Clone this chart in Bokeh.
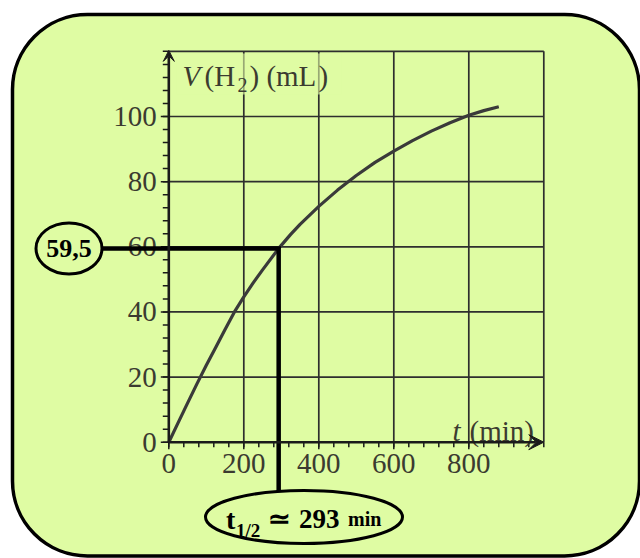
import numpy as np
from bokeh.plotting import figure
from bokeh.models import Range1d, BoxAnnotation, Arrow, VeeHead
from bokeh.core.properties import value
from bokeh.embed import file_html
from bokeh.resources import INLINE

# ---------------- data ----------------
t_min = [0, 25, 50, 75, 100, 125, 150, 175, 200, 225, 250, 293, 325, 350, 400,
         450, 500, 550, 600, 650, 700, 750, 800, 840, 880]
V_mL = [0, 6.0, 12.0, 17.9, 23.6, 29.1, 34.6, 40.0, 44.6, 48.9, 52.9, 59.5, 63.8,
        66.9, 72.4, 77.4, 81.9, 85.9, 89.4, 92.6, 95.5, 98.1, 100.4, 101.8, 103.0]

x_major = [0, 200, 400, 600, 800]
x_labels = ["0", "200", "400", "600", "800"]
y_major = [0, 20, 40, 60, 80, 100]
y_labels = ["0", "20", "40", "60", "80", "100"]
x_grid = [200, 400, 600, 800, 1000]
y_grid = [20, 40, 60, 80, 100, 120]
x_minor = list(range(0, 1001, 40))
y_minor = list(range(0, 121, 4))
x_max, y_max = 1000, 120

t_half = 293
V_half = 59.5
V_half_text = "59,5"

# ---------------- geometry (page pixels) ----------------
W, H = 640, 558
OX, OY = 168.3, 441.7      # data origin in px
SX, SY = 0.375, 3.257      # px per data unit
x0 = -OX / SX
x1 = x0 + W / SX
y1 = OY / SY
y0 = y1 - H / SY


def X(px):  # page px -> data x
    return x0 + px / SX


def Y(py):  # page px -> data y
    return y1 - py / SY


BG = "#dffca3"
GRID = "#2e2e2e"
AX = "#1a1a1a"
TXT = "#3b3b30"
SERIF = value("Liberation Serif")

p = figure(width=W, height=H, x_range=Range1d(x0, x1), y_range=Range1d(y0, y1),
           output_backend="svg", toolbar_location=None, min_border=0,
           x_axis_location=None, y_axis_location=None, outline_line_color=None,
           background_fill_color="white", border_fill_color="white")
p.grid.visible = False

# rounded green box
p.add_layout(BoxAnnotation(left=X(12), right=X(639), top=Y(14), bottom=Y(555.5),
                           border_radius=75, fill_color=BG, fill_alpha=1.0,
                           line_color="black", line_alpha=1.0, line_width=3.5,
                           level="underlay"))

# grid
p.segment(x0=x_grid, y0=[0] * len(x_grid), x1=x_grid, y1=[y_max] * len(x_grid),
          line_color=GRID, line_width=1.7)
p.segment(x0=[0] * len(y_grid), y0=y_grid, x1=[x_max] * len(y_grid), y1=y_grid,
          line_color=GRID, line_width=1.7)

# translucent backing of the y-axis title
p.quad(left=[X(176)], right=[X(341)], top=[Y(53)], bottom=[Y(94)],
       fill_color=BG, fill_alpha=0.6, line_color=None)

# curve
p.line(t_min, V_mL, line_color="#3a3a3a", line_width=3.2)

# ticks
p.ray(x=[0] * len(y_minor), y=y_minor, length=6, angle=np.pi, length_units="screen",
      line_color=AX, line_width=1.5)
p.ray(x=[0] * len(y_major), y=y_major, length=8, angle=np.pi, length_units="screen",
      line_color=AX, line_width=1.5)
p.ray(x=x_minor, y=[0] * len(x_minor), length=5, angle=-np.pi / 2, length_units="screen",
      line_color=AX, line_width=1.5)
p.ray(x=x_major, y=[0] * len(x_major), length=7, angle=-np.pi / 2, length_units="screen",
      line_color=AX, line_width=1.5)

# axes with arrows
p.add_layout(Arrow(x_start=0, y_start=0, x_end=0, y_end=y_max + 0.3,
                   end=VeeHead(size=11, fill_color=AX, line_color=AX, line_width=1),
                   line_color=AX, line_width=2.6))
p.add_layout(Arrow(x_start=0, y_start=0, x_end=x_max, y_end=0,
                   end=VeeHead(size=15, fill_color=AX, line_color=AX, line_width=1),
                   line_color=AX, line_width=2.6))

# tick labels
p.text(x=[0] * len(y_major), y=y_major, text=y_labels, x_offset=-12,
       text_align="right", text_baseline="middle", text_font=SERIF,
       text_font_size="29px", text_color=TXT)
p.text(x=x_major, y=[0] * len(x_major), text=x_labels, y_offset=12,
       text_align="center", text_baseline="top", text_font=SERIF,
       text_font_size="29px", text_color=TXT)

# axis titles
TT = dict(text_font=SERIF, text_color=TXT, text_baseline="alphabetic", text_align="left")
p.text(x=[X(182)], y=[Y(75)], text=["V"], text_font_style="italic", text_font_size="29px", **TT)
p.text(x=[X(204)], y=[Y(75)], text=["(H"], text_font_size="29px", **TT)
p.text(x=[X(237)], y=[Y(84)], text=["2"], text_font_size="20px", **TT)
p.text(x=[X(249)], y=[Y(75)], text=[") (mL"], text_font_size="29px", **TT)
p.text(x=[X(318)], y=[Y(75)], text=[")"], text_font_size="29px", **TT)
p.text(x=[X(452)], y=[Y(430)], text=["t"], text_font_style="italic", text_font_size="29px", **TT)
p.text(x=[X(469)], y=[Y(430)], text=["(min)"], text_font_size="29px", **TT)

# half-life construction
cx, ex, ey = X(68.5), X(303.5), Y(516.5)
p.line(x=[cx, t_half, t_half], y=[V_half, V_half, ey], line_color="black",
       line_width=4.5, line_join="miter")
p.ellipse(x=[cx], y=[V_half], width=66, height=51, width_units="screen",
          height_units="screen", fill_color=BG, line_color="black", line_width=3)
p.text(x=[cx], y=[V_half], text=[V_half_text], text_align="center",
       text_baseline="middle", text_font=SERIF, text_font_style="bold",
       text_font_size="26px", text_color="black")

p.ellipse(x=[ex], y=[ey], width=197, height=53, width_units="screen",
          height_units="screen", fill_color=BG, line_color="black", line_width=3)
BOLD = dict(text_font=SERIF, text_font_style="bold", text_color="black",
            text_baseline="alphabetic", text_align="left")
p.text(x=[ex], y=[ey], text=["t"], x_offset=-78, y_offset=2, text_font_size="28px", **BOLD)
p.text(x=[ex], y=[ey], text=["1/2"], x_offset=-68, y_offset=13, text_font_size="19px", **BOLD)
p.text(x=[ex], y=[ey], text=["\u2243"], x_offset=-36, y_offset=2, text_font_size="27px", **BOLD)
p.text(x=[ex], y=[ey], text=[str(t_half)], x_offset=-5, y_offset=2, text_font_size="27px", **BOLD)
p.text(x=[ex], y=[ey], text=["min"], x_offset=44, y_offset=2, text_font_size="20px", **BOLD)

open("out.html", "w").write(file_html(p, INLINE))
